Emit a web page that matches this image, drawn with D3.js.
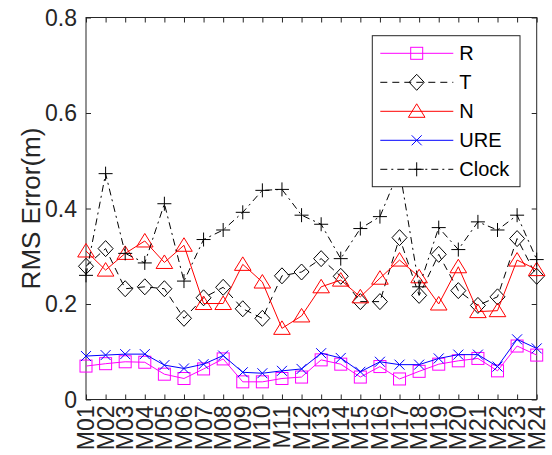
<!DOCTYPE html>
<html>
<head>
<meta charset="utf-8">
<script src="https://cdnjs.cloudflare.com/ajax/libs/d3/7.8.5/d3.min.js"></script>
<style>
body{margin:0;background:#fff;}
svg{font-family:"Liberation Sans",Arial,Helvetica,sans-serif;}
</style>
</head>
<body>
<div id="chart"></div>
<script>
var months=["M01","M02","M03","M04","M05","M06","M07","M08","M09","M10","M11","M12",
	"M13","M14","M15","M16","M17","M18","M19","M20","M21","M22","M23","M24"];
var rVals=[0.070,0.075,0.079,0.078,0.053,0.044,0.064,0.085,0.037,0.037,0.044,0.047,
	0.083,0.074,0.047,0.069,0.043,0.059,0.074,0.081,0.086,0.060,0.112,0.093];
var tVals=[0.279,0.316,0.232,0.236,0.232,0.170,0.213,0.235,0.190,0.170,0.259,0.267,
	0.295,0.258,0.205,0.205,0.339,0.218,0.304,0.228,0.197,0.215,0.337,0.258];
var nVals=[0.311,0.271,0.306,0.332,0.287,0.323,0.201,0.201,0.283,0.246,0.149,0.175,
	0.236,0.250,0.215,0.254,0.292,0.257,0.200,0.278,0.184,0.186,0.292,0.272];
var ureVals=[0.091,0.093,0.095,0.095,0.072,0.065,0.074,0.092,0.057,0.055,0.060,0.064,
	0.097,0.087,0.058,0.079,0.073,0.073,0.086,0.094,0.094,0.069,0.126,0.107];
var clockVals=[0.260,0.473,0.306,0.286,0.410,0.248,0.335,0.355,0.392,0.438,0.440,0.386,
	0.367,0.295,0.358,0.383,0.482,0.236,0.360,0.314,0.372,0.355,0.386,0.293];
var yTicks=[0,0.2,0.4,0.6,0.8];
var seriesNames=["R","T","N","URE","Clock"];

var W=552,H=455;
var pL=86,pR=536.7,pT=17.5,pB=399.5;
var axisColor="#262626";

var series=[
	{name:"R",vals:rVals,color:"#ff00ff",dash:null,marker:"square"},
	{name:"T",vals:tVals,color:"#000000",dash:"7,5",marker:"diamond"},
	{name:"N",vals:nVals,color:"#ff0000",dash:null,marker:"triangle"},
	{name:"URE",vals:ureVals,color:"#0000ff",dash:null,marker:"x"},
	{name:"Clock",vals:clockVals,color:"#000000",dash:"7,4,2,4",marker:"plus"}
];

var svg=d3.select("#chart").append("svg").attr("width",W).attr("height",H);

var x=d3.scalePoint().domain(months).range([pL,pR]);
var y=d3.scaleLinear().domain([0,0.8]).range([pB,pT]);

// axes box
svg.append("rect").attr("x",pL).attr("y",pT)
	.attr("width",pR-pL).attr("height",pB-pT)
	.attr("fill","#fff").attr("stroke",axisColor).attr("stroke-width",1);

// ticks, inward, on all four sides
var tl=5;
var xb=d3.axisBottom(x).tickSize(-tl).tickFormat("");
var xt=d3.axisTop(x).tickSize(-tl).tickFormat("");
var yl=d3.axisLeft(y).tickValues(yTicks).tickSize(-tl).tickFormat("");
var yr=d3.axisRight(y).tickValues(yTicks).tickSize(-tl).tickFormat("");
[[xb,"translate(0,"+pB+")"],[xt,"translate(0,"+pT+")"],
 [yl,"translate("+pL+",0)"],[yr,"translate("+pR+",0)"]].forEach(function(a){
	var g=svg.append("g").attr("transform",a[1]).call(a[0]);
	g.select(".domain").remove();
	g.selectAll("line").attr("stroke",axisColor);
});

// tick labels
svg.append("g").selectAll("text").data(yTicks).enter().append("text")
	.attr("x",pL-9).attr("y",function(d){return y(d);})
	.attr("dy","0.35em").attr("text-anchor","end")
	.attr("font-size",23).attr("fill",axisColor)
	.text(function(d){return d===0?"0":d.toFixed(1);});

svg.append("g").selectAll("text").data(months).enter().append("text")
	.attr("transform",function(d){return "translate("+x(d)+","+(pB+6)+") rotate(-90)";})
	.attr("dy","0.35em").attr("text-anchor","end")
	.attr("font-size",23).attr("fill",axisColor)
	.text(function(d){return d;});

svg.append("text")
	.attr("transform","translate(40,"+((pT+pB)/2)+") rotate(-90)")
	.attr("text-anchor","middle").attr("font-size",26).attr("fill",axisColor)
	.text("RMS Error(m)");

function drawMarker(g,type,color){
	if(type==="square"){
		g.append("rect").attr("x",-6).attr("y",-6).attr("width",12).attr("height",12)
			.attr("fill","none").attr("stroke",color);
	}else if(type==="diamond"){
		g.append("path").attr("d","M0,-8L7.5,0L0,8L-7.5,0Z")
			.attr("fill","none").attr("stroke",color);
	}else if(type==="triangle"){
		g.append("path").attr("d","M0,-7.5L8.3,6L-8.3,6Z")
			.attr("fill","none").attr("stroke",color);
	}else if(type==="x"){
		g.append("path").attr("d","M-5,-5L5,5M-5,5L5,-5")
			.attr("fill","none").attr("stroke",color);
	}else if(type==="plus"){
		g.append("path").attr("d","M-7,0L7,0M0,-7L0,7")
			.attr("fill","none").attr("stroke",color);
	}
}

var line=d3.line().x(function(d,i){return x(months[i]);}).y(function(d){return y(d);});
var plot=svg.append("g");
series.forEach(function(s){
	plot.append("path").datum(s.vals).attr("d",line)
		.attr("fill","none").attr("stroke",s.color).attr("stroke-width",1)
		.attr("stroke-dasharray",s.dash);
	s.vals.forEach(function(v,i){
		var g=plot.append("g").attr("transform","translate("+x(months[i])+","+y(v)+")");
		drawMarker(g,s.marker,s.color);
	});
});

// legend
var lx=372.3,ly=35.7,lw=147.7,lh=151,rowH=29;
var leg=svg.append("g");
leg.append("rect").attr("x",lx).attr("y",ly).attr("width",lw).attr("height",lh)
	.attr("fill","#fff").attr("stroke",axisColor).attr("stroke-width",1);
series.forEach(function(s,i){
	var cy=ly+17.6+i*rowH;
	leg.append("line").attr("x1",lx+8).attr("x2",lx+81).attr("y1",cy).attr("y2",cy)
		.attr("stroke",s.color).attr("stroke-dasharray",s.dash);
	var g=leg.append("g").attr("transform","translate("+(lx+44.4)+","+cy+")");
	drawMarker(g,s.marker,s.color);
	leg.append("text").attr("x",lx+87).attr("y",cy).attr("dy","0.35em")
		.attr("font-size",20).attr("fill","#000").text(seriesNames[i]);
});
</script>
</body>
</html>
